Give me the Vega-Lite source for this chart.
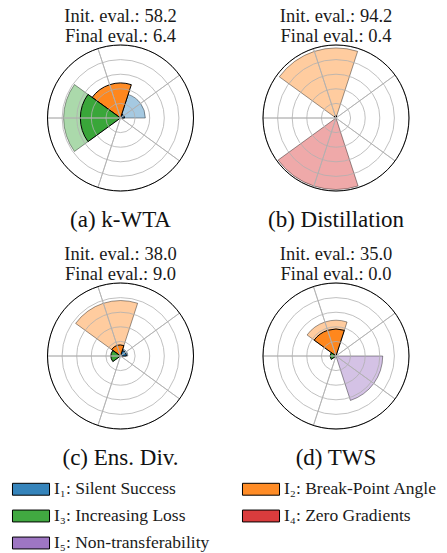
{
  "$schema": "https://vega.github.io/schema/vega-lite/v6.json",
  "width": 447,
  "height": 553,
  "padding": 0,
  "autosize": "none",
  "background": "white",
  "config": {"view": {"stroke": null}, "font": "Liberation Serif, DejaVu Serif, serif"},
  "datasets": {
    "wedges": [
      {"col": 0, "row": 0, "cat": "I₁: Silent Success", "k0": 0, "k1": 1, "init": 34, "final": 5.5},
      {"col": 0, "row": 0, "cat": "I₂: Break-Point Angle", "k0": 1, "k1": 2, "init": 40, "final": 48},
      {"col": 0, "row": 0, "cat": "I₃: Increasing Loss", "k0": 2, "k1": 3, "init": 78, "final": 55},
      {"col": 1, "row": 0, "cat": "I₂: Break-Point Angle", "k0": 1, "k1": 2, "init": 96, "final": 3},
      {"col": 1, "row": 0, "cat": "I₄: Zero Gradients", "k0": 3, "k1": 4, "init": 98, "final": 0},
      {"col": 0, "row": 1, "cat": "I₁: Silent Success", "k0": 0, "k1": 1, "init": 10, "final": 8},
      {"col": 0, "row": 1, "cat": "I₂: Break-Point Angle", "k0": 1, "k1": 2, "init": 76, "final": 15},
      {"col": 0, "row": 1, "cat": "I₃: Increasing Loss", "k0": 2, "k1": 3, "init": 12, "final": 13},
      {"col": 1, "row": 1, "cat": "I₂: Break-Point Angle", "k0": 1, "k1": 2, "init": 49, "final": 37},
      {"col": 1, "row": 1, "cat": "I₃: Increasing Loss", "k0": 2, "k1": 3, "init": 7, "final": 8},
      {"col": 1, "row": 1, "cat": "I₅: Non-transferability", "k0": 4, "k1": 5, "init": 64, "final": 0}
    ],
    "panels": [
      {"col": 0, "row": 0, "t1": "Init. eval.: 58.2", "t2": "Final eval.: 6.4", "cap": "(a) k-WTA", "rings": [20, 40, 60, 80], "sa": [0.5, 1.5, 2.5, 3.5, 4.5], "sb": [1.5, 2.5, 3.5, 4.5, 5.5]},
      {"col": 1, "row": 0, "t1": "Init. eval.: 94.2", "t2": "Final eval.: 0.4", "cap": "(b) Distillation", "rings": [20, 40, 60, 80], "sa": [0.5, 1.5, 2.5, 3.5, 4.5], "sb": [1.5, 2.5, 3.5, 4.5, 5.5]},
      {"col": 0, "row": 1, "t1": "Init. eval.: 38.0", "t2": "Final eval.: 9.0", "cap": "(c) Ens. Div.", "rings": [20, 40, 60, 80], "sa": [0.5, 1.5, 2.5, 3.5, 4.5], "sb": [1.5, 2.5, 3.5, 4.5, 5.5]},
      {"col": 1, "row": 1, "t1": "Init. eval.: 35.0", "t2": "Final eval.: 0.0", "cap": "(d) TWS", "rings": [20, 40, 60, 80], "sa": [0.5, 1.5, 2.5, 3.5, 4.5], "sb": [1.5, 2.5, 3.5, 4.5, 5.5]}
    ]
  },
  "encoding": {
    "x": {"field": "col", "type": "quantitative", "scale": {"domain": [-0.5592, 1.5151], "nice": false, "zero": false}, "axis": null},
    "y": {"field": "row", "type": "quantitative", "scale": {"domain": [-0.4958, 1.8277], "nice": false, "zero": false, "reverse": true}, "axis": null}
  },
  "layer": [
    {
      "data": {"name": "wedges"},
      "transform": [{"filter": "datum.init > 0"}],
      "mark": {"type": "arc", "fillOpacity": 0.4, "stroke": "black", "strokeOpacity": 0.4, "strokeWidth": 1},
      "encoding": {
        "theta": {"field": "k0", "type": "quantitative", "stack": null, "scale": {"type": "linear", "domain": [0, 5], "range": [1.5707963, -4.712389]}},
        "theta2": {"field": "k1"},
        "radius": {"field": "init", "type": "quantitative", "stack": null, "scale": {"type": "linear", "domain": [0, 100], "range": [0, 73], "zero": true}},
        "color": {
          "field": "cat", "type": "nominal",
          "scale": {
            "domain": ["I₁: Silent Success", "I₂: Break-Point Angle", "I₃: Increasing Loss", "I₄: Zero Gradients", "I₅: Non-transferability"],
            "range": ["#1f77b4", "#ff7f0e", "#2ca02c", "#d62728", "#9467bd"]
          },
          "legend": {
            "orient": "none", "legendX": 22, "legendY": 480, "columns": 2, "title": null, "direction": "horizontal",
            "symbolType": "M-2.18,-0.7H2.18V0.7H-2.18Z", "symbolSize": 289,
            "labelFontSize": 17.5, "labelFont": "Liberation Serif, DejaVu Serif, serif", "labelColor": "#1a1a1a",
            "columnPadding": 30, "rowPadding": 9, "labelOffset": 14,
            "symbolStrokeColor": "black", "symbolStrokeWidth": 1,
            "encode": {"symbols": {"update": {"fillOpacity": {"value": 0.9}, "strokeOpacity": {"value": 1}, "opacity": {"value": 1}}}}
          }
        }
      }
    },
    {
      "data": {"name": "wedges"},
      "transform": [{"filter": "datum.final > 0"}],
      "mark": {"type": "arc", "fillOpacity": 0.9, "stroke": "black", "strokeWidth": 1},
      "encoding": {
        "theta": {"field": "k0", "type": "quantitative", "stack": null, "scale": {"type": "linear", "domain": [0, 5], "range": [1.5707963, -4.712389]}},
        "theta2": {"field": "k1"},
        "radius": {"field": "final", "type": "quantitative", "stack": null, "scale": {"type": "linear", "domain": [0, 100], "range": [0, 73], "zero": true}},
        "color": {"field": "cat", "type": "nominal"}
      }
    },
    {
      "data": {"name": "panels"},
      "transform": [{"flatten": ["rings"]}],
      "mark": {"type": "arc", "fill": null, "fillOpacity": 0, "stroke": "#b0b0b0", "strokeWidth": 0.8},
      "encoding": {
        "theta": {"datum": 0, "type": "quantitative", "scale": {"type": "linear", "domain": [0, 5], "range": [1.5707963, -4.712389]}},
        "theta2": {"datum": 5.001},
        "radius": {"field": "rings", "type": "quantitative", "stack": null, "scale": {"type": "linear", "domain": [0, 100], "range": [0, 73], "zero": true}}
      }
    },
    {
      "data": {"name": "panels"},
      "transform": [{"flatten": ["sa", "sb"]}],
      "mark": {"type": "arc", "fill": null, "fillOpacity": 0, "stroke": "#b0b0b0", "strokeWidth": 0.8},
      "encoding": {
        "theta": {"field": "sa", "type": "quantitative", "stack": null, "scale": {"type": "linear", "domain": [0, 5], "range": [1.5707963, -4.712389]}},
        "theta2": {"field": "sb"},
        "radius": {"datum": 100, "type": "quantitative", "scale": {"type": "linear", "domain": [0, 100], "range": [0, 73], "zero": true}}
      }
    },
    {
      "data": {"name": "panels"},
      "mark": {"type": "arc", "fill": null, "fillOpacity": 0, "stroke": "black", "strokeWidth": 1},
      "encoding": {
        "theta": {"datum": 0, "type": "quantitative", "scale": {"type": "linear", "domain": [0, 5], "range": [1.5707963, -4.712389]}},
        "theta2": {"datum": 5.001},
        "radius": {"datum": 100, "type": "quantitative", "scale": {"type": "linear", "domain": [0, 100], "range": [0, 73], "zero": true}}
      }
    },
    {
      "data": {"name": "panels"},
      "mark": {"type": "text", "font": "Liberation Serif, DejaVu Serif, serif", "fontSize": 18.5, "dy": -96, "baseline": "alphabetic", "align": "center", "color": "#1a1a1a"},
      "encoding": {"text": {"field": "t1"}}
    },
    {
      "data": {"name": "panels"},
      "mark": {"type": "text", "font": "Liberation Serif, DejaVu Serif, serif", "fontSize": 18.5, "dy": -76, "baseline": "alphabetic", "align": "center", "color": "#1a1a1a"},
      "encoding": {"text": {"field": "t2"}}
    },
    {
      "data": {"name": "panels"},
      "mark": {"type": "text", "font": "Liberation Serif, DejaVu Serif, serif", "fontSize": 23, "dy": 109, "baseline": "alphabetic", "align": "center", "color": "#111111"},
      "encoding": {"text": {"field": "cap"}}
    }
  ]
}
